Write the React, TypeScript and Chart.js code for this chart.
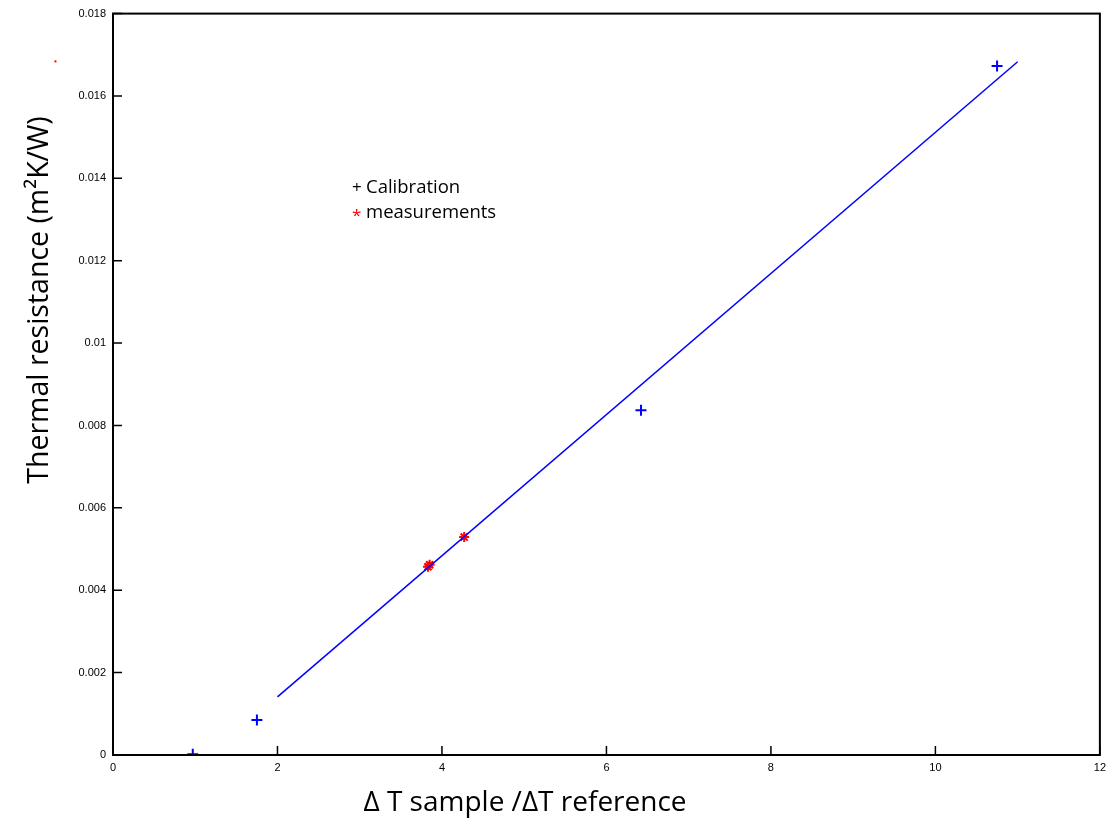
import React, { useEffect, useRef } from "react";
import { Chart, registerables } from "chart.js";

Chart.register(...registerables);

const calibX = [0.97, 1.75, 6.42, 10.75];
const calibY = [0.00002, 0.00085, 0.00837, 0.01673];
const measX = [3.83, 3.85, 4.27];
const measY = [0.00457, 0.00462, 0.00529];
const fitX = [2, 11];
const fitY = [0.00141, 0.01683];
const strayX = [-0.7];
const strayY = [0.01684];
const xTicks = [0, 2, 4, 6, 8, 10, 12];
const yTicks = [0, 0.002, 0.004, 0.006, 0.008, 0.01, 0.012, 0.014, 0.016, 0.018];
const legendLabels = ["Calibration", "measurements"];
const legendSymbols = ["+", "*"];
const xTitle = "Δ T sample /ΔT reference";
const yTitle = "Thermal resistance (m²K/W)";

const zip = (xs: number[], ys: number[]) => xs.map((x, i) => ({ x, y: ys[i] }));

const TITLE_FONT = "'Open Sans', 'Noto Sans', sans-serif";

const framePlugin = {
  id: "frame",
  afterDraw(chart: any) {
    const { ctx, chartArea: a, scales } = chart;
    ctx.save();
    ctx.strokeStyle = "#000";
    ctx.lineWidth = 2;
    ctx.strokeRect(a.left, a.top, a.right - a.left, a.bottom - a.top);
    ctx.lineWidth = 1.5;
    ctx.beginPath();
    xTicks.forEach((v) => {
      const px = scales.x.getPixelForValue(v);
      ctx.moveTo(px, a.bottom);
      ctx.lineTo(px, a.bottom - 9);
    });
    yTicks.forEach((v) => {
      const py = scales.y.getPixelForValue(v);
      ctx.moveTo(a.left, py);
      ctx.lineTo(a.left + 9, py);
    });
    ctx.stroke();
    // stray mark
    ctx.fillStyle = "#ff0000";
    strayX.forEach((x, i) => {
      const px = scales.x.getPixelForValue(x);
      const py = scales.y.getPixelForValue(strayY[i]);
      ctx.fillRect(px - 1, py - 1, 2, 2);
    });
    // legend
    ctx.textBaseline = "alphabetic";
    ctx.textAlign = "left";
    const lx = a.left + 239;
    const ly = a.top + 179;
    legendLabels.forEach((lab, i) => {
      ctx.font = `${i === 0 ? 17 : 17}px ${TITLE_FONT}`;
      ctx.fillStyle = i === 0 ? "#000" : "#ff0000";
      ctx.fillText(legendSymbols[i], lx, ly + i * 25 + (i === 1 ? 3 : 0));
      ctx.font = `18.5px ${TITLE_FONT}`;
      ctx.fillStyle = "#000";
      ctx.fillText(lab, lx + 14, ly + i * 25);
    });
    // titles
    ctx.fillStyle = "#000";
    ctx.font = `28px ${TITLE_FONT}`;
    ctx.textAlign = "center";
    ctx.fillText(xTitle, 525, 811);
    ctx.translate(48, 300);
    ctx.rotate(-Math.PI / 2);
    ctx.font = `28.5px ${TITLE_FONT}`;
    ctx.fillText(yTitle, 0, 0);
    ctx.restore();
  },
};

export default function App() {
  const ref = useRef<HTMLCanvasElement>(null);
  useEffect(() => {
    document.body.style.margin = "0";
    const chart = new Chart(ref.current!, {
      type: "scatter",
      data: {
        datasets: [
          {
            label: "fit",
            data: zip(fitX, fitY),
            showLine: true,
            borderColor: "#0000ff",
            borderWidth: 1.5,
            pointRadius: 0,
          },
          {
            label: "Calibration",
            data: zip(calibX, calibY),
            pointStyle: "cross",
            pointRadius: 5.5,
            borderColor: "#0000ff",
            borderWidth: 2,
            backgroundColor: "#0000ff",
          },
          {
            label: "measurements",
            data: zip(measX, measY),
            pointStyle: "star",
            pointRadius: 5,
            borderColor: "#ff0000",
            borderWidth: 2,
            backgroundColor: "#ff0000",
          },
        ],
      },
      options: {
        animation: false,
        responsive: false,
        layout: { padding: { top: 13, right: 12, left: 0, bottom: 0 } },
        plugins: { legend: { display: false }, tooltip: { enabled: false } },
        scales: {
          x: {
            type: "linear",
            min: 0,
            max: 12,
            afterBuildTicks: (s: any) => {
              s.ticks = xTicks.map((v) => ({ value: v }));
            },
            afterFit: (s: any) => {
              s.height = 75;
            },
            grid: { display: false, drawTicks: false },
            border: { display: false },
            ticks: {
              padding: 6,
              color: "#000",
              font: { family: "'Liberation Sans', Arial, sans-serif", size: 11 },
              callback: (v: any) => String(v),
            },
          },
          y: {
            type: "linear",
            min: 0,
            max: 0.018,
            afterBuildTicks: (s: any) => {
              s.ticks = yTicks.map((v) => ({ value: v }));
            },
            afterFit: (s: any) => {
              s.width = 113;
            },
            grid: { display: false, drawTicks: false },
            border: { display: false },
            ticks: {
              padding: 7,
              color: "#000",
              font: { family: "'Liberation Sans', Arial, sans-serif", size: 11 },
              callback: (v: any) => String(parseFloat(Number(v).toFixed(4))),
            },
          },
        },
      },
      plugins: [framePlugin],
    });
    return () => chart.destroy();
  }, []);
  return (
    <div style={{ position: "absolute", left: 0, top: 0, width: 1112, height: 830, background: "#fff" }}>
      <canvas ref={ref} width={1112} height={830} style={{ width: 1112, height: 830 }} />
    </div>
  );
}
